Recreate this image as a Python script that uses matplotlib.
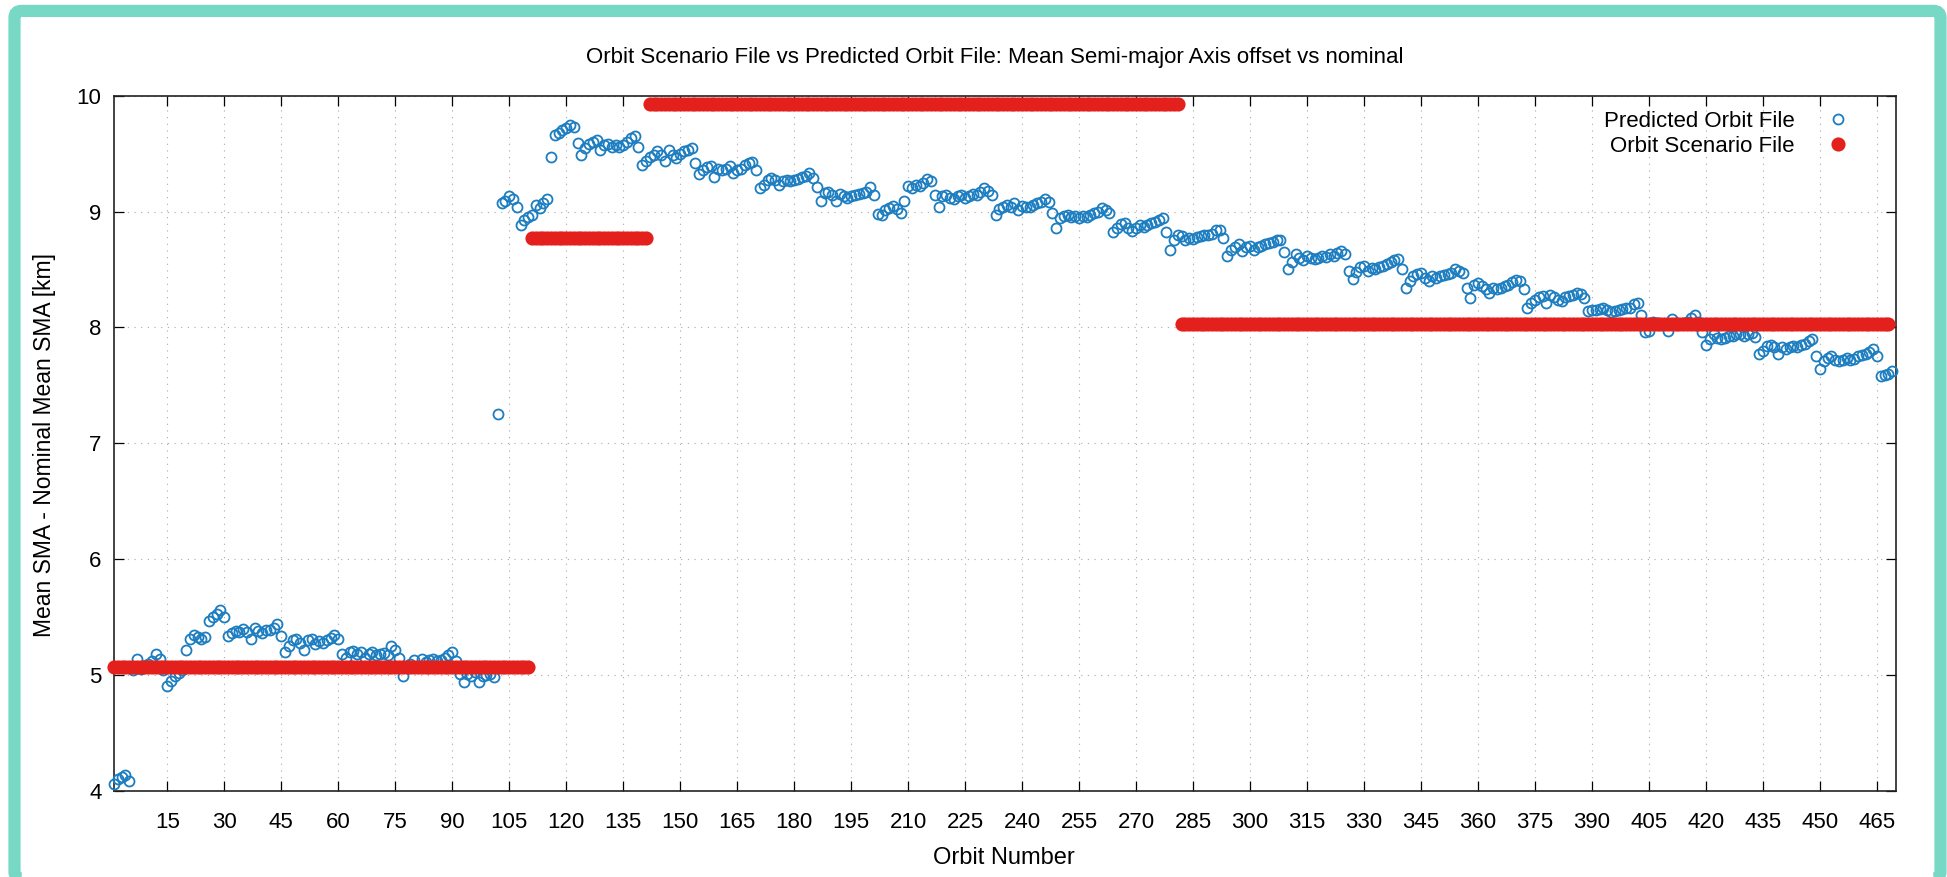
import numpy as np
import matplotlib
matplotlib.use("Agg")
import matplotlib.pyplot as plt
from matplotlib.patches import FancyBboxPatch
from matplotlib.transforms import IdentityTransform

# ---------------- data ----------------
# Predicted Orbit File: mean SMA offset [km], one value per orbit
pred_001_050 = [
    4.06, 4.10, 4.12, 4.14, 4.09, 5.04, 5.14, 5.05, 5.08, 5.10,
    5.12, 5.18, 5.14, 5.04, 4.91, 4.95, 4.99, 5.02, 5.04, 5.22,
    5.31, 5.35, 5.33, 5.31, 5.33, 5.47, 5.50, 5.53, 5.56, 5.50,
    5.34, 5.36, 5.38, 5.37, 5.40, 5.37, 5.31, 5.41, 5.38, 5.36,
    5.39, 5.39, 5.41, 5.44, 5.34, 5.20, 5.25, 5.30, 5.31, 5.28,
]
pred_051_100 = [
    5.22, 5.30, 5.31, 5.27, 5.29, 5.28, 5.30, 5.32, 5.35, 5.31,
    5.18, 5.15, 5.20, 5.21, 5.18, 5.20, 5.15, 5.18, 5.20, 5.17,
    5.18, 5.19, 5.17, 5.25, 5.22, 5.15, 4.99, 5.08, 5.10, 5.13,
    5.07, 5.14, 5.11, 5.13, 5.14, 5.12, 5.13, 5.15, 5.17, 5.20,
    5.12, 5.01, 4.94, 5.01, 4.99, 5.03, 4.94, 4.99, 5.00, 5.01,
]
pred_101_150 = [
    4.98, 7.25, 9.07, 9.09, 9.13, 9.11, 9.04, 8.88, 8.93, 8.95,
    8.97, 9.06, 9.03, 9.07, 9.11, 9.47, 9.66, 9.68, 9.70, 9.72,
    9.75, 9.73, 9.59, 9.49, 9.55, 9.58, 9.60, 9.62, 9.53, 9.57,
    9.58, 9.56, 9.57, 9.56, 9.57, 9.60, 9.63, 9.65, 9.56, 9.40,
    9.44, 9.47, 9.49, 9.52, 9.49, 9.44, 9.53, 9.49, 9.46, 9.50,
]
pred_151_200 = [
    9.52, 9.53, 9.55, 9.42, 9.32, 9.36, 9.38, 9.39, 9.30, 9.37,
    9.36, 9.37, 9.39, 9.33, 9.36, 9.37, 9.40, 9.42, 9.43, 9.36,
    9.20, 9.23, 9.27, 9.29, 9.27, 9.23, 9.26, 9.27, 9.26, 9.27,
    9.28, 9.30, 9.31, 9.33, 9.29, 9.21, 9.09, 9.16, 9.17, 9.14,
    9.09, 9.15, 9.13, 9.12, 9.13, 9.14, 9.15, 9.16, 9.17, 9.21,
]
pred_201_250 = [
    9.14, 8.98, 8.97, 9.01, 9.03, 9.05, 9.02, 8.99, 9.09, 9.22,
    9.20, 9.23, 9.22, 9.25, 9.28, 9.26, 9.14, 9.04, 9.13, 9.14,
    9.12, 9.11, 9.13, 9.14, 9.12, 9.13, 9.15, 9.14, 9.17, 9.20,
    9.18, 9.14, 8.97, 9.02, 9.04, 9.06, 9.04, 9.07, 9.01, 9.05,
    9.04, 9.04, 9.06, 9.07, 9.08, 9.11, 9.08, 8.99, 8.86, 8.94,
]
pred_251_300 = [
    8.96, 8.97, 8.95, 8.96, 8.94, 8.96, 8.95, 8.97, 8.99, 9.00,
    9.03, 9.01, 8.99, 8.82, 8.86, 8.89, 8.90, 8.86, 8.83, 8.86,
    8.88, 8.87, 8.88, 8.90, 8.91, 8.93, 8.94, 8.82, 8.67, 8.75,
    8.80, 8.79, 8.75, 8.77, 8.76, 8.78, 8.79, 8.80, 8.80, 8.81,
    8.84, 8.84, 8.77, 8.62, 8.67, 8.69, 8.72, 8.66, 8.69, 8.70,
]
pred_301_350 = [
    8.67, 8.69, 8.70, 8.72, 8.73, 8.74, 8.75, 8.75, 8.65, 8.50,
    8.56, 8.63, 8.60, 8.58, 8.62, 8.60, 8.59, 8.60, 8.62, 8.61,
    8.63, 8.62, 8.64, 8.66, 8.63, 8.49, 8.42, 8.48, 8.52, 8.53,
    8.49, 8.51, 8.50, 8.52, 8.53, 8.55, 8.56, 8.58, 8.59, 8.50,
    8.34, 8.40, 8.44, 8.46, 8.47, 8.43, 8.40, 8.44, 8.43, 8.44,
]
pred_351_400 = [
    8.45, 8.46, 8.47, 8.50, 8.49, 8.47, 8.34, 8.25, 8.37, 8.38,
    8.36, 8.33, 8.30, 8.34, 8.33, 8.34, 8.36, 8.37, 8.39, 8.41,
    8.40, 8.33, 8.17, 8.21, 8.24, 8.26, 8.27, 8.21, 8.28, 8.26,
    8.24, 8.23, 8.26, 8.27, 8.28, 8.30, 8.29, 8.25, 8.14, 8.15,
    8.15, 8.16, 8.17, 8.15, 8.13, 8.14, 8.15, 8.16, 8.17, 8.17,
]
pred_401_450 = [
    8.20, 8.21, 8.11, 7.96, 7.97, 8.05, 8.04, 8.03, 8.03, 7.97,
    8.07, 8.04, 8.03, 8.04, 8.05, 8.08, 8.11, 8.05, 7.96, 7.85,
    7.90, 7.94, 7.91, 7.90, 7.91, 7.93, 7.93, 7.94, 7.94, 7.93,
    7.94, 7.95, 7.92, 7.77, 7.80, 7.84, 7.85, 7.83, 7.77, 7.83,
    7.81, 7.83, 7.84, 7.83, 7.85, 7.86, 7.88, 7.90, 7.75, 7.64,
]
pred_451_469 = [
    7.71, 7.74, 7.75, 7.72, 7.71, 7.72, 7.74, 7.72, 7.73, 7.75,
    7.76, 7.77, 7.79, 7.81, 7.75, 7.58, 7.59, 7.60, 7.62,
]
pred_blocks = [pred_001_050, pred_051_100, pred_101_150, pred_151_200,
               pred_201_250, pred_251_300, pred_301_350, pred_351_400,
               pred_401_450, pred_451_469]
pred_block_first_orbit = [1, 51, 101, 151, 201, 251, 301, 351, 401, 451]

# Orbit Scenario File: constant offset per orbit range
scen_first_orbit = [1, 111, 142, 282]
scen_last_orbit = [110, 141, 281, 468]
scen_value = [5.07, 8.77, 9.93, 8.03]

x_ticks = list(range(15, 466, 15))
y_ticks = [4, 5, 6, 7, 8, 9, 10]

title_text = "Orbit Scenario File vs Predicted Orbit File: Mean Semi-major Axis offset vs nominal"
xlabel_text = "Orbit Number"
ylabel_text = "Mean SMA - Nominal Mean SMA [km]"
label_pred = "Predicted Orbit File"
label_scen = "Orbit Scenario File"

# ---------------- styling ----------------
plt.rcParams['font.family'] = ['Liberation Sans', 'DejaVu Sans']
BLUE = '#1c7dc0'
RED = '#e3201b'
TEAL = '#76d8c5'
W, H = 1947, 877

fig = plt.figure(figsize=(W / 100, H / 100), dpi=100)
fig.patch.set_facecolor('white')

ax_l, ax_r, ax_t, ax_b = 114, 1896, 95.6, 791
ax = fig.add_axes([ax_l / W, 1 - ax_b / H, (ax_r - ax_l) / W, (ax_b - ax_t) / H])

# predicted (open circles)
pred_x = np.concatenate([np.arange(s, s + len(b)) for s, b in zip(pred_block_first_orbit, pred_blocks)])
pred_y = np.concatenate([np.asarray(b, dtype=float) for b in pred_blocks])
ax.plot(pred_x, pred_y, linestyle='none', marker='o', ms=7.2, mfc='none',
        mec=BLUE, mew=1.3, clip_on=False, label=label_pred, zorder=3)

# scenario (filled red circles)
for i, (s, e, v) in enumerate(zip(scen_first_orbit, scen_last_orbit, scen_value)):
    xs = np.arange(s, e + 1)
    ax.plot(xs, np.full(xs.shape, v), linestyle='none', marker='o', ms=10.2,
            mfc=RED, mec=RED, mew=0, clip_on=False, zorder=4,
            label=label_scen if i == 0 else None)

ax.set_xlim(1, 470)
ax.set_ylim(4, 10)
ax.set_xticks(x_ticks)
ax.set_yticks(y_ticks)
ax.tick_params(axis='both', direction='in', length=7, width=0.9, top=True, right=True,
               labelsize=16, colors='black')
ax.tick_params(axis='x', pad=15)
ax.tick_params(axis='y', pad=9)
ax.grid(True, color='#a9a9a9', linestyle=(0, (1, 5)), linewidth=0.8)
ax.set_axisbelow(True)
for sp in ax.spines.values():
    sp.set_linewidth(1.2)
    sp.set_color('#222222')

fig.text(995 / W, 1 - 58 / H, title_text, ha='center', va='center', fontsize=16)
fig.text(1004 / W, 1 - 858 / H, xlabel_text, ha='center', va='center', fontsize=17)
fig.text(45 / W, 1 - 445 / H, ylabel_text, ha='center', va='center', rotation=90, fontsize=16.5)

leg = ax.legend(loc='upper right', bbox_to_anchor=(0.980, 0.978), frameon=False,
                markerfirst=False, fontsize=16, borderaxespad=0, borderpad=0,
                handletextpad=0.95, labelspacing=0.18, handlelength=2.0)

# teal border (rounded outside, thick stroke) in pixel coordinates
border = FancyBboxPatch((14.5, -1.6), 1940.5 - 14.5, 866.1 + 1.6,
                        boxstyle='round,pad=0,rounding_size=7',
                        transform=IdentityTransform(), fill=False,
                        edgecolor=TEAL, linewidth=8.8, clip_on=False)
fig.patches.append(border)

fig.savefig('out.png', dpi=100, facecolor='white')
